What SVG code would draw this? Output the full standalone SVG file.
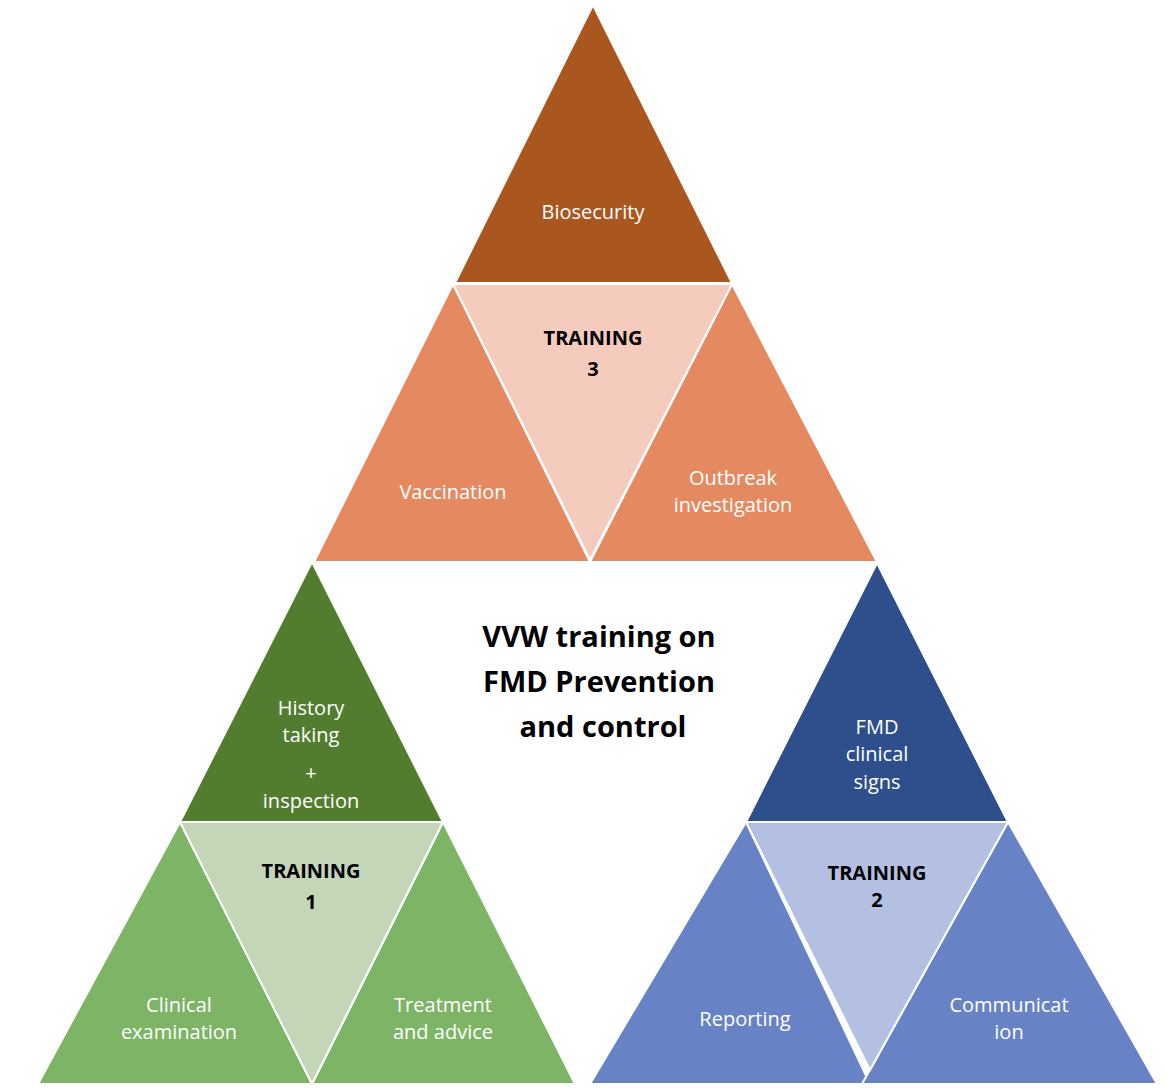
<svg xmlns="http://www.w3.org/2000/svg" width="1167" height="1089" viewBox="0 0 1167 1089">
<style>
polygon{stroke:#fff;stroke-width:2}
text{font-family:"Open Sans","Liberation Sans",sans-serif;font-size:20px;fill:#fff;text-anchor:middle}
.k{fill:#000;font-weight:bold}
.t{fill:#000;font-weight:bold;font-size:29px}
</style>
<rect width="1167" height="1089" fill="#fff"/>
<g id="training3">
<polygon points="593,5 455,283 732,283" fill="#a9571f"/>
<polygon points="453,284 314,562 590,562" fill="#e58a60"/>
<polygon points="732,284 590,562 877,562" fill="#e58a60"/>
<polygon points="453,284 732,284 590,560" fill="#f5cbbd"/>
<text x="593" y="219">Biosecurity</text>
<text x="453" y="499">Vaccination</text>
<text x="733" y="485">Outbreak</text><text x="733" y="512">investigation</text>
<text class="k" x="593" y="345">TRAINING</text><text class="k" x="593" y="376">3</text>
</g>
<g id="training1">
<polygon points="312,562 180,822 443,822" fill="#527d2f"/>
<polygon points="180,822 38,1084 312,1084" fill="#7db465"/>
<polygon points="443,822 312,1084 575,1084" fill="#7db465"/>
<polygon points="180,822 443,822 312,1084" fill="#c3d6b7"/>
<text x="311" y="715">History</text><text x="311" y="742">taking</text>
<text x="311" y="780">+</text><text x="311" y="808">inspection</text>
<text x="179" y="1012">Clinical</text><text x="179" y="1039">examination</text>
<text x="443" y="1012">Treatment</text><text x="443" y="1039">and advice</text>
<text class="k" x="311" y="878">TRAINING</text><text class="k" x="311" y="909">1</text>
</g>
<g id="training2">
<polygon points="877,563 746,822 1008,822" fill="#2e4f8b"/>
<polygon points="746,822 590,1084 870,1084" fill="#6783c6"/>
<polygon points="1008,822 862,1084 1157,1084" fill="#6783c6"/>
<polygon points="746,822 1008,822 870,1070" fill="#b4c0e2"/>
<text x="877" y="734">FMD</text><text x="877" y="761">clinical</text><text x="877" y="789">signs</text>
<text x="745" y="1026">Reporting</text>
<text x="1009" y="1012">Communicat</text><text x="1009" y="1039">ion</text>
<text class="k" x="877" y="880">TRAINING</text><text class="k" x="877" y="907">2</text>
</g>
<g id="title">
<text class="t" x="599" y="647">VVW training on</text>
<text class="t" x="599" y="692">FMD Prevention</text>
<text class="t" x="603" y="737">and control</text>
</g>
<g id="connectors"/>
</svg>
